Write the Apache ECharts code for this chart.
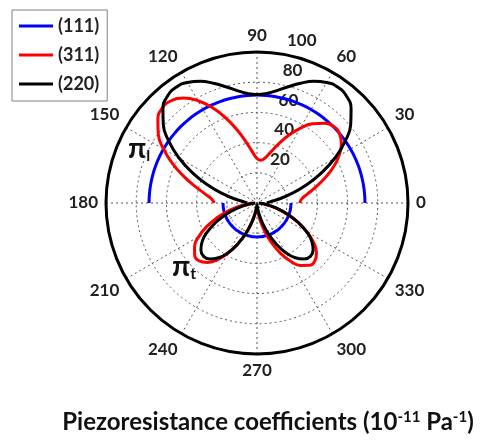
<!DOCTYPE html>
<html><head><meta charset="utf-8">
<script src="https://cdn.jsdelivr.net/npm/echarts@6/dist/echarts.min.js"></script>
<style>html,body{margin:0;padding:0;background:#fff}#c{width:480px;height:441px}</style>
</head><body><div id="c"></div>
<script>
// angles (degrees) for the upper half (pi_l) and the lower half (pi_t)
const anglesUp = [0,5,10,15,20,25,30,35,40,45,50,55,60,65,70,75,80,85,90,95,100,105,110,115,120,125,130,135,140,145,150,155,160,165,170,175,180];
const anglesDown = [180,185,190,195,200,205,210,215,220,225,230,235,240,245,250,255,260,265,270,275,280,285,290,295,300,305,310,315,320,325,330,335,340,345,350,355,360];

// (111)
const v111Up = [71.5,71.5,71.5,71.5,71.5,71.5,71.5,71.5,71.5,71.5,71.5,71.5,71.5,71.5,71.5,71.5,71.5,71.5,71.5,71.5,71.5,71.5,71.5,71.5,71.5,71.5,71.5,71.5,71.5,71.5,71.5,71.5,71.5,71.5,71.5,71.5,71.5];
const v111Down = [22.5,22.5,22.5,22.5,22.5,22.5,22.5,22.5,22.5,22.5,22.5,22.5,22.5,22.5,22.5,22.5,22.5,22.5,22.5,22.5,22.5,22.5,22.5,22.5,22.5,22.5,22.5,22.5,22.5,22.5,22.5,22.5,22.5,22.5,22.5,22.5,22.5];

// (311)
const v311Up = [28.3,29.6,33.8,40.0,47.7,55.6,62.7,68.2,71.3,71.6,69.0,64.0,57.1,49.3,41.5,34.9,30.2,28.4,29.5,33.8,40.8,49.7,59.6,69.6,78.2,84.8,88.4,88.8,85.7,79.8,71.4,61.7,51.6,42.4,35.0,30.2,28.3];
const v311Down = [3.0,5.7,11.3,18.9,27.7,36.6,44.5,50.5,53.9,54.2,51.4,45.9,38.3,29.5,20.6,12.7,6.6,3.3,3.0,5.7,11.3,18.9,27.7,36.6,44.5,50.5,53.9,54.2,51.4,45.9,38.3,29.5,20.6,12.7,6.6,3.3,3.0];

// (220)
const v220Up = [6.6,8.6,14.3,23.2,34.4,46.9,59.6,71.2,81.0,88.1,92.3,93.5,92.2,88.9,84.4,79.7,75.6,72.8,71.8,72.8,75.6,79.7,84.4,88.9,92.2,93.5,92.3,88.1,81.0,71.2,59.6,46.9,34.4,23.2,14.3,8.6,6.6];
const v220Down = [1.1,2.6,6.8,13.3,21.3,29.8,37.8,44.3,48.5,50.0,48.5,44.3,37.8,29.8,21.3,13.3,6.8,2.6,1.1,2.6,6.8,13.3,21.3,29.8,37.8,44.3,48.5,50.0,48.5,44.3,37.8,29.8,21.3,13.3,6.8,2.6,1.1];

const seriesNames = ['(111)','(311)','(220)'];
const seriesColors = ['#0000ff','#ff0000','#000000'];
const radialTicks = [0,20,40,60,80,100];
const titleMain = 'Piezoresistance coefficients (10';
const titleSup1 = '-11';
const titleMid = ' Pa';
const titleSup2 = '-1';

function pairs(vals, angs){ return vals.map((v,i)=>[v, angs[i]]); }

const chart = echarts.init(document.getElementById('c'), null, {renderer:'canvas'});
const labelFont = 'Lato, "DejaVu Sans", sans-serif';
const lineSeries = (name, color, vals, angs) => ({
  name: name, type: 'line', coordinateSystem: 'polar', polarIndex: 0,
  data: pairs(vals, angs), showSymbol: false, symbol: 'none', smooth: true,
  lineStyle: {color: color, width: 3}, itemStyle: {color: color}, animation: false
});

chart.setOption({
  animation: false,
  backgroundColor: '#fff',
  polar: [
    {center: [257, 203], radius: 151},
    {center: [257, 203], radius: 151}
  ],
  angleAxis: [
    {polarIndex: 0, type: 'value', min: 0, max: 360, interval: 30, startAngle: 0, clockwise: false,
     axisLine: {lineStyle: {color: '#000', width: 3}},
     axisTick: {show: false},
     axisLabel: {margin: 8, align: 'center', verticalAlign: 'middle', fontSize: 17, fontWeight: 'bold', color: '#222', fontFamily: labelFont,
                 formatter: v => (v === 360 ? '' : String(v))},
     splitLine: {show: true, lineStyle: {color: '#555', width: 1, type: [2, 3]}}},
    {polarIndex: 1, type: 'value', min: 0, max: 360, startAngle: 82, clockwise: false, show: false}
  ],
  radiusAxis: [
    {polarIndex: 0, type: 'value', min: radialTicks[0], max: radialTicks[radialTicks.length-1], interval: 20,
     axisLine: {show: false}, axisTick: {show: false}, axisLabel: {show: false},
     splitLine: {show: true, lineStyle: {color: '#555', width: 1, type: [2, 3]}}},
    {polarIndex: 1, type: 'value', min: radialTicks[0], max: radialTicks[radialTicks.length-1], interval: 20,
     axisLine: {show: false}, axisTick: {show: false}, splitLine: {show: false},
     axisLabel: {show: true, showMinLabel: false, margin: -9, align: 'left', verticalAlign: 'bottom',
                 padding: [0,0,6,0], fontSize: 17, fontWeight: 'bold', color: '#222', fontFamily: labelFont}}
  ],
  legend: {
    data: seriesNames, orient: 'vertical', left: 12, top: 10,
    padding: [7, 8, 8, 7], itemGap: 11, itemWidth: 34, itemHeight: 3, icon: 'rect',
    borderColor: '#808080', borderWidth: 1, backgroundColor: '#fff',
    textStyle: {fontSize: 18, fontWeight: 'bold', color: '#222', fontFamily: labelFont, lineHeight: 17}
  },
  graphic: [
    {type: 'text', left: 128, top: 134, style: {text: '{p|π}{s|l}', rich: {
      p: {fontSize: 29, fontWeight: 'bold', fill: '#111', fontFamily: labelFont},
      s: {fontSize: 16, fontWeight: 'bold', fill: '#111', fontFamily: labelFont, verticalAlign: 'bottom', padding: [14,0,0,0]}}}},
    {type: 'text', left: 172, top: 252, style: {text: '{p|π}{s|t}', rich: {
      p: {fontSize: 29, fontWeight: 'bold', fill: '#111', fontFamily: labelFont},
      s: {fontSize: 16, fontWeight: 'bold', fill: '#111', fontFamily: labelFont, verticalAlign: 'bottom', padding: [14,0,0,0]}}}},
    {type: 'text', x: 268, y: 422, style: {
      text: '{a|' + titleMain + '}{b|' + titleSup1 + '}{a|' + titleMid + '}{b|' + titleSup2 + '}{a|)}',
      align: 'center', verticalAlign: 'middle',
      rich: {a: {fontSize: 24, fontWeight: 'bold', fill: '#111', fontFamily: labelFont},
             b: {fontSize: 15, fontWeight: 'bold', fill: '#111', fontFamily: labelFont, verticalAlign: 'top', padding: [0,0,9,0]}}}}
  ],
  series: [
    lineSeries(seriesNames[0], seriesColors[0], v111Up, anglesUp),
    lineSeries(seriesNames[0], seriesColors[0], v111Down, anglesDown),
    lineSeries(seriesNames[1], seriesColors[1], v311Up, anglesUp),
    lineSeries(seriesNames[1], seriesColors[1], v311Down, anglesDown),
    lineSeries(seriesNames[2], seriesColors[2], v220Up, anglesUp),
    lineSeries(seriesNames[2], seriesColors[2], v220Down, anglesDown)
  ]
});
</script></body></html>
